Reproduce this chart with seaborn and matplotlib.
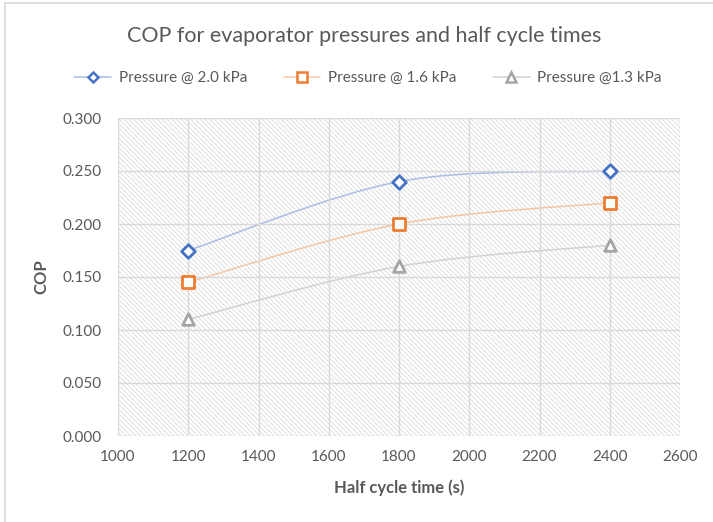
import numpy as np
import pandas as pd
import matplotlib
matplotlib.use("Agg")
import matplotlib.pyplot as plt
from matplotlib.path import Path
from matplotlib.patches import PathPatch
from matplotlib.lines import Line2D
import seaborn as sns

# Data
half_cycle_time = [1200, 1800, 2400]
cop_20kpa = [0.175, 0.240, 0.250]
cop_16kpa = [0.145, 0.200, 0.220]
cop_13kpa = [0.110, 0.160, 0.180]
series_names = ["Pressure @ 2.0 kPa", "Pressure @ 1.6 kPa", "Pressure @1.3 kPa"]
x_ticks = [1000, 1200, 1400, 1600, 1800, 2000, 2200, 2400, 2600]
y_ticks = [0.0, 0.05, 0.10, 0.15, 0.20, 0.25, 0.30]

sns.set_theme(style="white")
plt.rcParams["font.family"] = ["Lato", "DejaVu Sans"]
plt.rcParams["hatch.color"] = "#dadada"
plt.rcParams["hatch.linewidth"] = 0.6

text_col = "#595959"
marker_cols = ["#4472C4", "#ED7D31", "#A5A5A5"]
line_cols = ["#a9bde6", "#f6c6a3", "#d2d2d2"]
markers = ["D", "s", "^"]
msizes = [48, 80, 70]

fig = plt.figure(figsize=(7.13, 5.22), dpi=100)
ax = fig.add_axes([118 / 713, 1 - 436 / 522, 562 / 713, 318 / 522])

# chart-area border
fig.add_artist(Line2D([5 / 713, 5 / 713], [0, 1 - 3 / 522], transform=fig.transFigure,
                      color="#d9d9d9", lw=1.2))
fig.add_artist(Line2D([5 / 713, 1], [1 - 3 / 522, 1 - 3 / 522], transform=fig.transFigure,
                      color="#d9d9d9", lw=1.2))

# hatched plot area
ax.set_facecolor("white")
bg = plt.Rectangle((0, 0), 1, 1, transform=ax.transAxes, facecolor="white",
                   hatch="\\" * 7, edgecolor="#dadada", lw=0, zorder=0)
ax.add_patch(bg)


def smooth_path(xs, ys):
    """Bezier spline through the points, in the style of a smoothed line chart."""
    pts = np.column_stack([xs, ys]).astype(float)
    n = len(pts)
    verts = [pts[0]]
    codes = [Path.MOVETO]
    for i in range(n - 1):
        p0 = pts[i - 1] if i > 0 else pts[i]
        p1 = pts[i]
        p2 = pts[i + 1]
        p3 = pts[i + 2] if i + 2 < n else pts[i + 1]
        c1 = p1 + (p2 - p0) / 6.0
        c2 = p2 - (p3 - p1) / 6.0
        verts += [c1, c2, p2]
        codes += [Path.CURVE4] * 3
    return Path(verts, codes)


all_series = [cop_20kpa, cop_16kpa, cop_13kpa]
for vals, name, mc, lc, mk, ms in zip(all_series, series_names, marker_cols, line_cols, markers, msizes):
    ax.add_patch(PathPatch(smooth_path(half_cycle_time, vals), fill=False,
                           edgecolor=lc, lw=1.1, zorder=2))
    df = pd.DataFrame({"t": half_cycle_time, "cop": vals})
    sns.scatterplot(data=df, x="t", y="cop", ax=ax, marker=mk, s=ms,
                    facecolor="white", edgecolor=mc, linewidth=2.0, zorder=3)

ax.set_xlim(1000, 2600)
ax.set_ylim(0, 0.3)
ax.set_xticks(x_ticks)
ax.set_yticks(y_ticks)
ax.set_xticklabels([str(v) for v in x_ticks])
ax.set_yticklabels([f"{v:.3f}" for v in y_ticks])
ax.grid(True, color="#d9d9d9", lw=1.0, zorder=1)
ax.set_axisbelow(False)
for s in ax.spines.values():
    s.set_visible(False)
ax.tick_params(axis="both", length=0, labelsize=11, colors=text_col)
ax.tick_params(axis="x", pad=10)
ax.tick_params(axis="y", pad=12)

ax.set_xlabel("Half cycle time (s)", fontsize=12, fontweight="bold", color=text_col, labelpad=11)
ax.set_ylabel("COP", fontsize=12, fontweight="bold", color=text_col, labelpad=9)

fig.text(364 / 713, 1 - 36 / 522, "COP for evaporator pressures and half cycle times",
         ha="center", va="center", fontsize=15.5, color=text_col)

handles = [Line2D([0], [0], color=lc, lw=1.1, marker=mk, markersize=5.5 if mk == "D" else 6.5,
                  markerfacecolor="white", markeredgecolor=mc, markeredgewidth=1.8)
           for lc, mc, mk in zip(line_cols, marker_cols, markers)]
leg = fig.legend(handles, series_names, loc="center", bbox_to_anchor=(368 / 713, 1 - 78 / 522),
                 ncol=3, frameon=False, fontsize=11, handlelength=2.4, columnspacing=2.4,
                 handletextpad=0.5)
for t in leg.get_texts():
    t.set_color(text_col)

fig.savefig("out.png", dpi=100)
